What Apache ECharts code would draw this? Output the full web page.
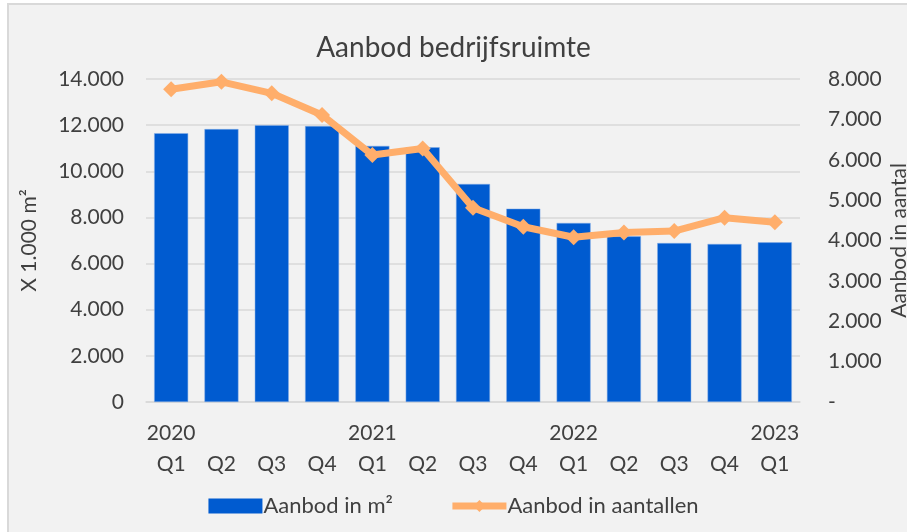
<!DOCTYPE html>
<html>
<head>
<meta charset="utf-8">
<script src="https://cdn.jsdelivr.net/npm/echarts@6/dist/echarts.min.js"></script>
<style>
  html, body { margin: 0; padding: 0; background: #ffffff; }
  #chart { width: 907px; height: 532px; }
</style>
</head>
<body>
<div id="chart"></div>
<script>
// data
const years = ['2020', '', '', '', '2021', '', '', '', '2022', '', '', '', '2023'];
const quarters = ['Q1', 'Q2', 'Q3', 'Q4', 'Q1', 'Q2', 'Q3', 'Q4', 'Q1', 'Q2', 'Q3', 'Q4', 'Q1'];
const aanbodM2 = [11650, 11830, 12000, 11960, 11100, 11040, 9450, 8380, 7760, 7180, 6890, 6850, 6920];
const aanbodAantal = [7745, 7930, 7645, 7110, 6120, 6280, 4810, 4340, 4080, 4200, 4235, 4565, 4450];

const fmt = v => (v === 0 ? '0' : v.toLocaleString('de-DE'));
const textColor = '#404040';
const font = 'Lato';
const orange = '#FFAE6B';
const blue = '#005BD0';

const chart = echarts.init(document.getElementById('chart'));
chart.setOption({
  backgroundColor: '#ffffff',
  textStyle: { fontFamily: font },
  // chart frame (starts slightly inset, runs off the right/bottom edge)
  graphic: [{
    type: 'rect',
    z: -10,
    shape: { x: 8, y: 4, width: 920, height: 540 },
    style: { fill: '#f2f2f2', stroke: '#d9d9d9', lineWidth: 2 },
    silent: true
  }],
  title: {
    text: 'Aanbod bedrijfsruimte',
    left: 'center',
    top: 29,
    textStyle: { fontFamily: font, fontSize: 28, fontWeight: 'normal', color: textColor }
  },
  legend: {
    bottom: 10,
    left: 'center',
    itemGap: 56,
    itemWidth: 54,
    itemHeight: 15,
    textStyle: { fontFamily: font, fontSize: 22, color: textColor, padding: [0, 0, 0, -4] },
    data: [
      { name: 'Aanbod in m²', icon: 'rect', itemStyle: { color: blue, borderWidth: 0 } },
      { name: 'Aanbod in aantallen', itemStyle: { color: orange }, lineStyle: { width: 7, color: orange } }
    ]
  },
  grid: { left: 146, right: 107, top: 79, bottom: 130, outerBoundsMode: 'none' },
  xAxis: {
    type: 'category',
    data: quarters.map((q, i) => (years[i] || ' ') + '\n' + q),
    axisLine: { lineStyle: { color: '#d9d9d9', width: 1.5 } },
    axisTick: { show: false },
    axisLabel: {
      margin: 16,
      lineHeight: 31,
      fontSize: 21,
      color: textColor,
      interval: 0
    }
  },
  yAxis: [
    {
      type: 'value',
      min: 0,
      max: 14000,
      interval: 2000,
      name: 'X 1.000 m²',
      nameLocation: 'middle',
      nameRotate: 90,
      nameGap: 106,
      nameMoveOverlap: false,
      nameTextStyle: { fontSize: 21, color: textColor, fontFamily: font },
      axisLabel: { fontSize: 21, color: textColor, margin: 22, formatter: fmt },
      splitLine: { lineStyle: { color: '#d9d9d9', width: 1.5 } }
    },
    {
      type: 'value',
      min: 0,
      max: 8000,
      interval: 1000,
      name: 'Aanbod in aantal',
      nameLocation: 'middle',
      nameRotate: 90,
      nameGap: 89,
      nameMoveOverlap: false,
      nameTextStyle: { fontSize: 21, color: textColor, fontFamily: font },
      axisLabel: {
        fontSize: 21,
        color: textColor,
        margin: 28,
        formatter: v => (v === 0 ? '-' : fmt(v))
      },
      splitLine: { show: false }
    }
  ],
  series: [
    {
      name: 'Aanbod in m²',
      type: 'bar',
      data: aanbodM2,
      barWidth: 34,
      itemStyle: { color: blue, borderColor: '#86aee6', borderWidth: 0.5 }
    },
    {
      name: 'Aanbod in aantallen',
      type: 'line',
      yAxisIndex: 1,
      data: aanbodAantal,
      symbol: 'diamond',
      symbolSize: 16,
      lineStyle: { color: orange, width: 7 },
      itemStyle: { color: orange }
    }
  ]
});
</script>
</body>
</html>
